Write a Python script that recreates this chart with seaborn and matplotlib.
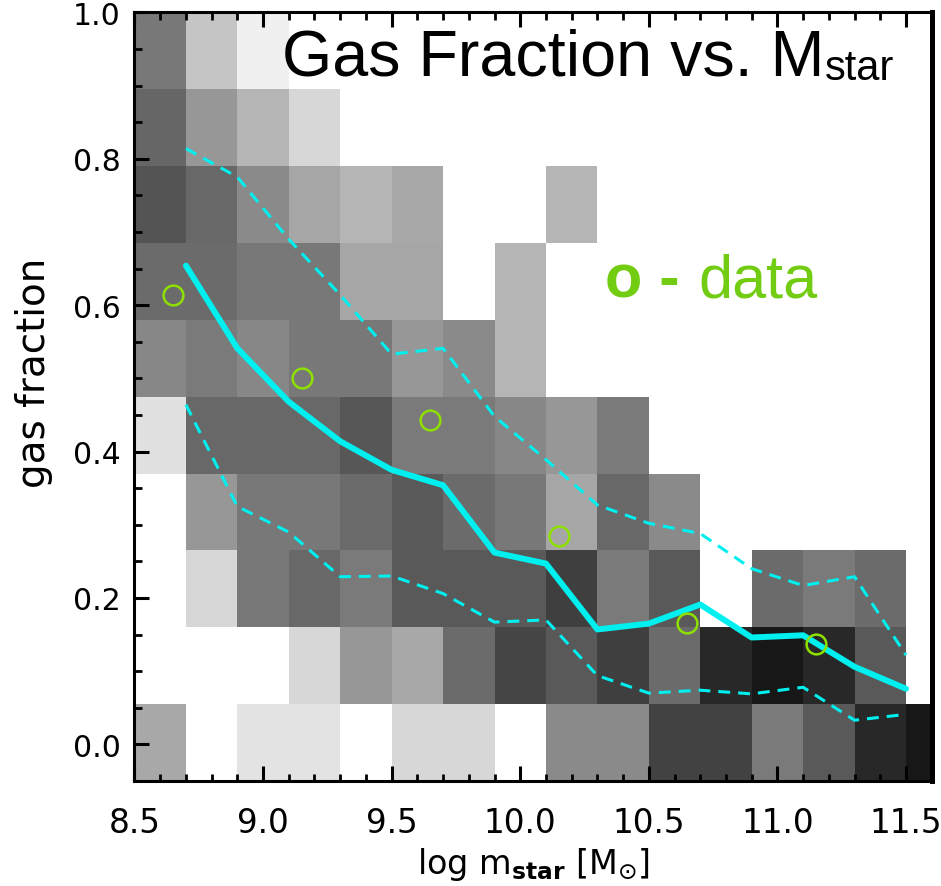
import numpy as np
import pandas as pd
import matplotlib
matplotlib.use("Agg")
import matplotlib.pyplot as plt
from matplotlib.ticker import MultipleLocator, FormatStrFormatter
import seaborn as sns

# ---- binning of the 2D distribution ----
mass_edges = np.arange(8.5, 11.7 + 1e-9, 0.2)          # log M_star bin edges
frac_edges = np.linspace(-0.05, 1.0, 11)                # gas-fraction bin edges

# relative density per cell (rows: gas-fraction bins from bottom, cols: mass bins)
density = [
    [0.34, 0.00, 0.11, 0.11, 0.00, 0.16, 0.16, 0.00, 0.46, 0.46, 0.74, 0.74, 0.52, 0.65, 0.84, 0.91],
    [0.00, 0.00, 0.00, 0.16, 0.41, 0.34, 0.58, 0.73, 0.65, 0.75, 0.58, 0.84, 0.91, 0.84, 0.65, 0.00],
    [0.00, 0.16, 0.53, 0.59, 0.52, 0.65, 0.65, 0.65, 0.75, 0.52, 0.65, 0.00, 0.58, 0.52, 0.58, 0.00],
    [0.00, 0.41, 0.53, 0.53, 0.58, 0.65, 0.58, 0.53, 0.35, 0.59, 0.46, 0.00, 0.00, 0.00, 0.00, 0.00],
    [0.12, 0.59, 0.59, 0.59, 0.66, 0.52, 0.52, 0.47, 0.41, 0.52, 0.00, 0.00, 0.00, 0.00, 0.00, 0.00],
    [0.47, 0.52, 0.47, 0.53, 0.53, 0.41, 0.46, 0.29, 0.00, 0.00, 0.00, 0.00, 0.00, 0.00, 0.00, 0.00],
    [0.58, 0.58, 0.53, 0.53, 0.35, 0.35, 0.00, 0.29, 0.00, 0.00, 0.00, 0.00, 0.00, 0.00, 0.00, 0.00],
    [0.67, 0.59, 0.46, 0.35, 0.29, 0.34, 0.00, 0.00, 0.29, 0.00, 0.00, 0.00, 0.00, 0.00, 0.00, 0.00],
    [0.60, 0.41, 0.29, 0.16, 0.00, 0.00, 0.00, 0.00, 0.00, 0.00, 0.00, 0.00, 0.00, 0.00, 0.00, 0.00],
    [0.53, 0.23, 0.06, 0.00, 0.00, 0.00, 0.00, 0.00, 0.00, 0.00, 0.00, 0.00, 0.00, 0.00, 0.00, 0.00],
]

# ---- running statistics of the model ----
stat_mass = [8.7, 8.9, 9.1, 9.3, 9.5, 9.7, 9.9, 10.1, 10.3, 10.5, 10.7, 10.9, 11.1, 11.3, 11.5]
median_frac = [0.654, 0.541, 0.468, 0.414, 0.375, 0.354, 0.262, 0.247, 0.157, 0.165, 0.191, 0.146, 0.149, 0.106, 0.076]
upper_frac = [0.814, 0.775, 0.690, 0.614, 0.533, 0.541, 0.448, 0.389, 0.327, 0.302, 0.288, 0.240, 0.217, 0.229, 0.122]
lower_frac = [0.464, 0.325, 0.290, 0.229, 0.230, 0.206, 0.167, 0.170, 0.094, 0.070, 0.074, 0.069, 0.078, 0.033, 0.041]

# ---- observed data points ----
obs_mass = [8.65, 9.15, 9.65, 10.15, 10.65, 11.15]
obs_frac = [0.614, 0.501, 0.443, 0.285, 0.166, 0.137]

# one weighted point per cell centre
mass_c = 0.5 * (mass_edges[:-1] + mass_edges[1:])
frac_c = 0.5 * (frac_edges[:-1] + frac_edges[1:])
mm, ff = np.meshgrid(mass_c, frac_c)
cells = pd.DataFrame({"mass": mm.ravel(), "frac": ff.ravel(),
                      "w": np.asarray(density).ravel()})

sns.set_style("ticks")
plt.rcParams["font.family"] = ["DejaVu Sans"]
plt.rcParams["mathtext.fontset"] = "dejavusans"
for key in ("text.color", "axes.labelcolor", "xtick.color", "ytick.color",
            "axes.edgecolor"):
    plt.rcParams[key] = "black"

fig = plt.figure(figsize=(9.41, 8.87), dpi=100)
ax = fig.add_axes([0.1429, 0.1184, 0.9901 - 0.1429, 0.985 - 0.1184])
ax.set_axisbelow(False)

sns.histplot(data=cells, x="mass", y="frac", weights="w",
             bins=[mass_edges, frac_edges], cmap="gray_r",
             vmin=0, vmax=1, thresh=0, ax=ax,
             edgecolor="none", antialiased=False)

cyan = "#00f0f0"
sns.lineplot(x=stat_mass, y=median_frac, color=cyan, lw=4.3, ax=ax, sort=False)
ax.plot(stat_mass, upper_frac, color=cyan, lw=2.2, dashes=(3.9, 2.6))
ax.plot(stat_mass, lower_frac, color=cyan, lw=2.2, dashes=(3.9, 2.6))
ax.plot(obs_mass, obs_frac, ls="none", marker="o", ms=14.2,
        mfc="none", mec="#8ee000", mew=1.8)

ax.set_xlim(8.5, 11.6)
ax.set_ylim(-0.05, 1.0)
ax.xaxis.set_major_locator(MultipleLocator(0.5))
ax.xaxis.set_minor_locator(MultipleLocator(0.1))
ax.yaxis.set_major_locator(MultipleLocator(0.2))
ax.yaxis.set_minor_locator(MultipleLocator(0.05))
ax.xaxis.set_major_formatter(FormatStrFormatter("%.1f"))
ax.yaxis.set_major_formatter(FormatStrFormatter("%.1f"))

ax.tick_params(which="major", direction="in", length=10.8, width=2.2,
               top=True, right=False, color="black")
ax.tick_params(which="minor", direction="in", length=5.4, width=2.0,
               top=True, right=False, color="black")
ax.tick_params(axis="x", which="major", labelsize=23.5, pad=18)
ax.tick_params(axis="y", which="major", labelsize=21.5, pad=10)

for side, sp in ax.spines.items():
    sp.set_visible(True)
    sp.set_color("black")
    sp.set_linewidth(3.6 if side == "right" else 2.2)
    sp.set_zorder(5)

ax.set_xlabel(r"log m$_{\mathbf{star}}$ [M$_{\odot}$]", fontsize=24, labelpad=4)
ax.set_ylabel("gas fraction", fontsize=28)
ax.yaxis.set_label_coords(-0.102, 0.532)

title = fig.text(282 / 941, 1 - 75 / 887, "Gas Fraction vs. M", fontsize=46.5,
                 family="Liberation Sans", ha="left", va="baseline")
fig.canvas.draw()
tb = title.get_window_extent(fig.canvas.get_renderer())
fig.text((tb.x1 + 1) / 941, 1 - 80 / 887, "star", fontsize=30,
         family="Liberation Sans", ha="left", va="baseline")

green = "#72cc12"
fig.text(605 / 941, 1 - 297 / 887, "o -", fontsize=44, weight="bold",
         family="Liberation Sans", color=green, ha="left", va="baseline")
fig.text(698 / 941, 1 - 297 / 887, "data", fontsize=44,
         family="Liberation Sans", color=green, ha="left", va="baseline")

fig.savefig("out.png", dpi=100)
